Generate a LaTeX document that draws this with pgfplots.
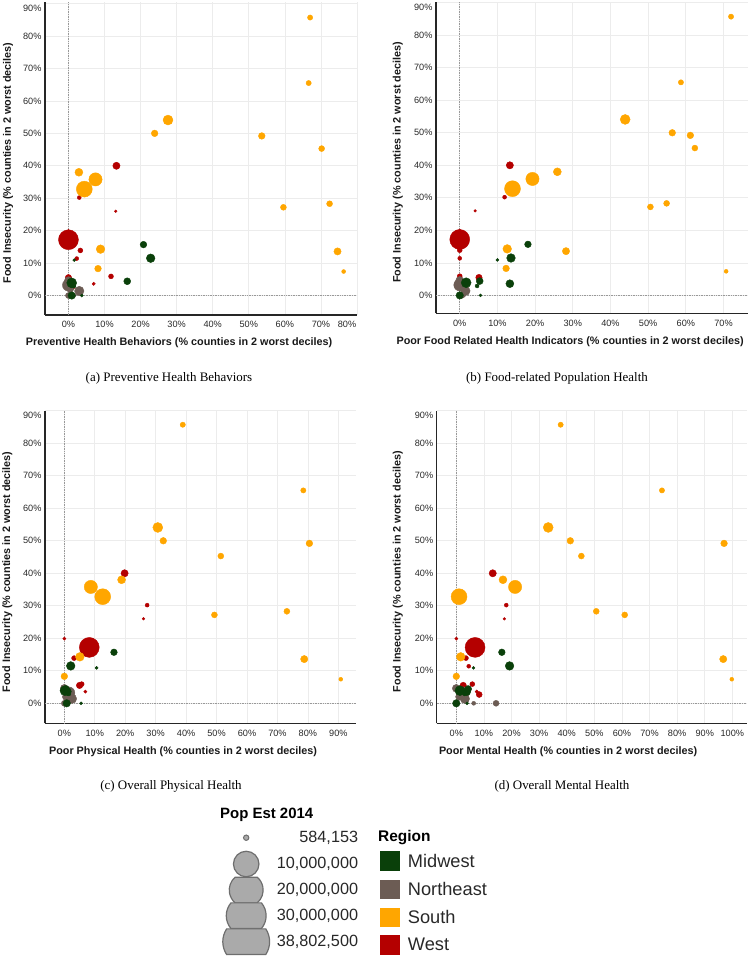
\documentclass[border=0pt]{standalone}
\usepackage{fontspec}
\setmainfont{Liberation Serif}
\setsansfont{Liberation Sans}
\usepackage{pgfplots}
\usepackage{pgfplotstable}
\pgfplotsset{compat=1.18}

\definecolor{cMid}{RGB}{10,64,10}
\definecolor{cNE}{RGB}{108,92,84}
\definecolor{cSouth}{RGB}{255,166,0}
\definecolor{cWest}{RGB}{180,0,0}
\definecolor{gridc}{RGB}{236,236,236}
\definecolor{legfill}{RGB}{170,170,170}
\definecolor{legstroke}{RGB}{110,110,110}
\definecolor{txt}{RGB}{40,40,40}

% fi = food insecurity (%), d = bubble diameter (px, from population),
% xa..xd = x value in panels (a)..(d)
\pgfplotstableread{
fi   d    xa    xb    xc    xd
19.9 3.3  0     0     0     0
17.2 20   0     0     8.2   6.8
40.0 7.3  13.3  13.3  19.8  13.2
30.2 4    3.0   11.9  27.2  18.1
26.0 2.7  13.1  4.1   26.0  17.4
13.9 5    3.3   0     3.2   3.5
11.4 4    2.3   0     2.0   4.5
5.9  5    11.8  0     5.7   5.8
5.5  6.5  0     5.1   5.0   2.5
3.6  3.3  7.0   1.0   6.9   7.4
2.7  6    1.0   1.0   1.0   8.3
}\west

\pgfplotstableread{
fi   d    xa    xb    xc    xd
4.6  8    0     0     0     0
3.2  12   0     0     1.5   2.5
2.0  7    0.5   1.0   0.5   1.0
1.4  9.5  3.0   1.5   2.5   3.1
0    6    0     0.5   0     14.4
0    4    1.5   1.0   1.0   6.3
}\northeast

\pgfplotstableread{
fi   d    xa    xb    xc    xd
15.7 6.7  20.8  18.1  16.3  16.5
11.5 8.7  22.8  13.6  2.1   19.3
10.9 3    1.6   10.0  10.6  6.2
4.4  7    16.3  5.3   0.5   4.3
3.9  10   0.9   1.7   0.2   1.3
3.6  8    1.0   13.3  1.0   3.8
2.9  4    1.5   4.6   1.5   3.0
0    7.5  0.9   0     0.8   0
0    3    3.7   5.5   5.5   3.9
}\midwest

\pgfplotstableread{
fi   d    xa    xb    xc    xd
85.7 5.3  67.0  72.0  38.9  37.8
65.5 5.3  66.6  58.7  78.5  74.5
54.1 10   27.6  43.9  30.7  33.3
50.0 6.7  23.9  56.4  32.5  41.3
49.2 6.7  53.6  61.2  80.5  97.0
45.3 6.0  70.2  62.4  51.4  45.3
38.0 8.0  2.9   25.9  18.8  16.9
35.8 13.3 7.5   19.3  8.7   21.3
32.8 16   4.4   14.0  12.6  1.0
28.3 6    72.4  54.9  73.1  50.7
27.2 6    59.6  50.6  49.3  61.0
14.3 8.7  8.9   12.6  5.1   1.6
13.6 7.3  74.6  28.2  78.8  96.7
8.3  6.7  8.2   12.3  0     0
7.4  4    76.3  70.7  90.8  99.8
}\south

% circle cut off above and below (size legend of the bubble chart)
\pgfdeclareplotmark{bandcirc}{%
  \pgfmathsetmacro\bth{asin(min(1,12.9/\pgfplotmarksize))}%
  \pgfpathmoveto{\pgfpointpolar{-\bth}{\pgfplotmarksize}}%
  \pgfpatharc{-\bth}{\bth}{\pgfplotmarksize}%
  \pgfpathlineto{\pgfpointpolar{180-\bth}{\pgfplotmarksize}}%
  \pgfpatharc{180-\bth}{180+\bth}{\pgfplotmarksize}%
  \pgfpathclose
  \pgfusepath{fill,stroke}}

\pgfplotsset{
  panel/.style={
    scale only axis, anchor=south west,
    axis x line*=bottom, axis y line*=left,
    axis line style={-, black!85, line width=1.3bp},
    major tick length=0pt,
    grid=major, major grid style={gridc, line width=0.7bp},
    ytick={0,10,...,90},
    yticklabels={0\%,10\%,20\%,30\%,40\%,50\%,60\%,70\%,80\%,\raisebox{-5bp}[\height][\depth]{90\%}},
    xticklabel={\pgfmathprintnumber{\tick}\%},
    /pgf/number format/assume math mode=true,
    ticklabel style={font=\sffamily\fontsize{9.2}{10}\selectfont, text=txt},
    xticklabel style={yshift=-3bp},
    label style={font=\sffamily\bfseries\fontsize{10.85}{12}\selectfont, text=black!90},
    extra x ticks={0}, extra y ticks={0},
    extra x tick labels={}, extra y tick labels={},
    extra x tick style={major grid style={densely dotted, black!40, line width=0.7bp}},
    extra y tick style={major grid style={densely dotted, black!40, line width=0.7bp}},
  },
}

\newcommand{\bub}[3]{%
  \addplot[scatter, only marks, mark=*,
    scatter/use mapped color={draw=#1, fill=#1},
    visualization depends on={\thisrow{d} \as \dia},
    scatter/@pre marker code/.append style={/tikz/mark size=\dia/2}]
    table[x=#3, y=fi] {#2};}

\newcommand{\allbub}[1]{%
  \bub{cWest}{\west}{#1}
  \bub{cNE}{\northeast}{#1}
  \bub{cMid}{\midwest}{#1}
  \bub{cSouth}{\south}{#1}}

\begin{document}
\begin{tikzpicture}
\useasboundingbox (0,0) rectangle (750bp,956bp);

% (a)
\begin{axis}[panel, at={(45bp,641bp)}, width=312bp, height=313bp,
  xmin=-6.5, xmax=80, ymin=-6, ymax=90.5, xtick={0,10,...,80},
  xticklabels={0\%,10\%,20\%,30\%,40\%,50\%,60\%,70\%,\hspace*{-20bp}80\%},
  xlabel={Preventive Health Behaviors (\% counties in 2 worst deciles)},
  ylabel={Food Insecurity (\% counties in 2 worst deciles)},
  xlabel style={at={(axis description cs:0.43,-0.0895)}, anchor=center},
  ylabel style={at={(axis description cs:-0.1186,0.486)}, anchor=center}]
\allbub{xa}
\end{axis}

% (b)
\begin{axis}[panel, at={(436bp,642.7bp)}, width=312bp, height=311.6bp,
  xmin=-6.3, xmax=76.5, ymin=-5.5, ymax=90.3, xtick={0,10,...,70},
  xlabel={Poor Food Related Health Indicators (\% counties in 2 worst deciles)},
  ylabel={Food Insecurity (\% counties in 2 worst deciles)},
  xlabel style={at={(axis description cs:0.43,-0.09)}, anchor=center},
  ylabel style={at={(axis description cs:-0.122,0.484)}, anchor=center}]
\allbub{xb}
\end{axis}

% (c)
\begin{axis}[panel, at={(45bp,232.7bp)}, width=311bp, height=312.7bp,
  xmin=-6.35, xmax=95.8, ymin=-6.15, ymax=90.05, xtick={0,10,...,90},
  xlabel={Poor Physical Health (\% counties in 2 worst deciles)},
  ylabel={Food Insecurity (\% counties in 2 worst deciles)},
  xlabel style={at={(axis description cs:0.444,-0.091)}, anchor=center},
  ylabel style={at={(axis description cs:-0.121,0.484)}, anchor=center}]
\allbub{xc}
\end{axis}

% (d)
\begin{axis}[panel, at={(436.7bp,232.7bp)}, width=310bp, height=312.7bp,
  xmin=-7.1, xmax=105.2, ymin=-6.15, ymax=90.05, xtick={0,10,...,100},
  xlabel={Poor Mental Health (\% counties in 2 worst deciles)},
  ylabel={Food Insecurity (\% counties in 2 worst deciles)},
  xlabel style={at={(axis description cs:0.424,-0.091)}, anchor=center},
  ylabel style={at={(axis description cs:-0.125,0.485)}, anchor=center}]
\allbub{xd}
\end{axis}

% overlay: captions and legends, in pixel units
\begin{axis}[at={(0,0)}, anchor=south west, width=750bp, height=956bp,
  scale only axis, hide axis, clip=false,
  xmin=0, xmax=750, ymin=0, ymax=956, y dir=reverse]
\begin{scope}[every node/.style={font=\fontsize{13}{15}\selectfont}]
\node at (axis cs:169,378) {(a) Preventive Health Behaviors};
\node at (axis cs:557,378) {(b) Food-related Population Health};
\node at (axis cs:171,786) {(c) Overall Physical Health};
\node at (axis cs:562,786) {(d) Overall Mental Health};
\end{scope}

% size legend
\node[anchor=west, inner sep=0, font=\sffamily\bfseries\fontsize{15}{17}\selectfont] at (axis cs:220,815) {Pop Est 2014};
\addplot[only marks, mark=*, mark size=2.7, draw=legstroke, fill=legfill, line width=1bp] coordinates {(246.2,837.7)};
\addplot[only marks, mark=bandcirc, mark size=12.8, draw=legstroke, fill=legfill, line width=1.2bp] coordinates {(246.2,864)};
\addplot[only marks, mark=bandcirc, mark size=17, draw=legstroke, fill=legfill, line width=1.2bp] coordinates {(246.2,890)};
\addplot[only marks, mark=bandcirc, mark size=20, draw=legstroke, fill=legfill, line width=1.2bp] coordinates {(246.2,915.7)};
\addplot[only marks, mark=bandcirc, mark size=23.5, draw=legstroke, fill=legfill, line width=1.2bp] coordinates {(246.2,941.7)};
\begin{scope}[every node/.style={anchor=east, inner sep=0, text=txt, font=\sffamily\fontsize{16.3}{18}\selectfont}]
\node at (axis cs:358.3,837.7) {584,153};
\node at (axis cs:358.3,864) {10,000,000};
\node at (axis cs:358.3,890) {20,000,000};
\node at (axis cs:358.3,915.7) {30,000,000};
\node at (axis cs:358.3,941.7) {38,802,500};
\end{scope}

% region legend
\node[anchor=west, inner sep=0, font=\sffamily\bfseries\fontsize{15.5}{17}\selectfont] at (axis cs:378,837.3) {Region};
\addplot[only marks, mark=square*, mark size=9.5, draw=cMid, fill=cMid] coordinates {(389.3,860.8)};
\addplot[only marks, mark=square*, mark size=9.5, draw=cNE, fill=cNE] coordinates {(389.3,889.2)};
\addplot[only marks, mark=square*, mark size=9.5, draw=cSouth, fill=cSouth] coordinates {(389.3,917.2)};
\addplot[only marks, mark=square*, mark size=9.5, draw=cWest, fill=cWest] coordinates {(389.3,944.8)};
\begin{scope}[every node/.style={anchor=west, inner sep=0, text=txt, font=\sffamily\fontsize{18.3}{20}\selectfont}]
\node at (axis cs:407.7,860.8) {Midwest};
\node at (axis cs:407.7,889.2) {Northeast};
\node at (axis cs:407.7,917.2) {South};
\node at (axis cs:407.7,944.8) {West};
\end{scope}
\end{axis}
\end{tikzpicture}
\end{document}
